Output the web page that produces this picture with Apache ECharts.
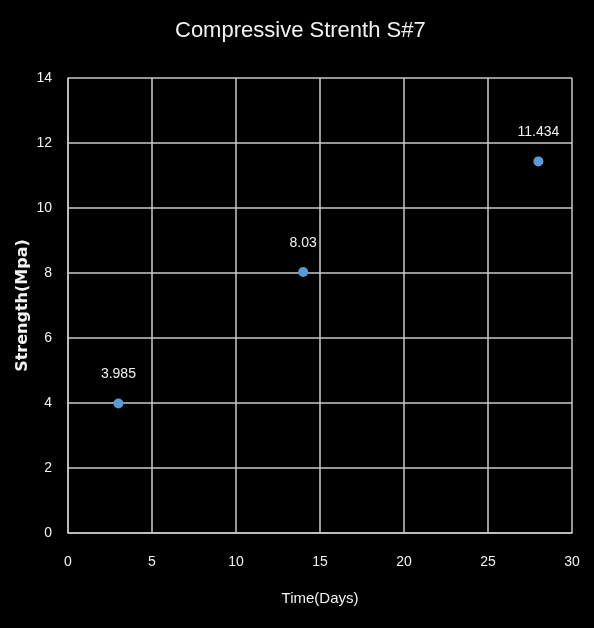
<!DOCTYPE html>
<html>
<head>
<meta charset="utf-8">
<script src="https://cdn.jsdelivr.net/npm/echarts@6/dist/echarts.min.js"></script>
<style>
html,body{margin:0;padding:0;background:#000;}
#chart{width:594px;height:628px;}
</style>
</head>
<body>
<div id="chart"></div>
<script>
// Compressive strength test results
const days = [3, 14, 28];
const strength = [3.985, 8.03, 11.434];
const xTicks = [0, 5, 10, 15, 20, 25, 30];
const yTicks = [0, 2, 4, 6, 8, 10, 12, 14];

const font = '"Liberation Sans", sans-serif';
const chart = echarts.init(document.getElementById('chart'));
chart.setOption({
  backgroundColor: '#000',
  animation: false,
  title: {
    text: 'Compressive Strenth S#7',
    left: 170,
    top: 15,
    textStyle: { color: '#f2f2f2', fontFamily: font, fontSize: 22, fontWeight: 'normal' }
  },
  grid: { left: 68, right: 22, top: 78, bottom: 95, outerBoundsMode: 'none' },
  xAxis: {
    type: 'value',
    min: xTicks[0], max: xTicks[xTicks.length - 1], interval: 5,
    name: 'Time(Days)', nameLocation: 'middle', nameGap: 58,
    nameTextStyle: { color: '#f2f2f2', fontFamily: font, fontSize: 15 },
    axisLine: { show: true, lineStyle: { color: '#c8c8c8', width: 1.5 } },
    axisTick: { show: false },
    axisLabel: { color: '#f2f2f2', fontFamily: font, fontSize: 14, margin: 22 },
    splitLine: { show: true, lineStyle: { color: '#c8c8c8', width: 1.5 } }
  },
  yAxis: {
    type: 'value',
    min: yTicks[0], max: yTicks[yTicks.length - 1], interval: 2,
    name: 'Strength(Mpa)', nameLocation: 'middle', nameGap: 37,
    nameMoveOverlap: false,
    nameTextStyle: { color: '#f2f2f2', fontFamily: '"DejaVu Sans", sans-serif', fontSize: 16, fontWeight: 'bold' },
    axisLine: { show: true, lineStyle: { color: '#c8c8c8', width: 1.5 } },
    axisTick: { show: false },
    axisLabel: { color: '#f2f2f2', fontFamily: font, fontSize: 14, margin: 16 },
    splitLine: { show: true, lineStyle: { color: '#c8c8c8', width: 1.5 } }
  },
  series: [{
    type: 'scatter',
    data: days.map((d, i) => [d, strength[i]]),
    symbolSize: 10,
    itemStyle: { color: '#5b9bd5', opacity: 1 },
    label: {
      show: true, position: 'top', distance: 17,
      formatter: p => String(p.value[1]),
      color: '#f2f2f2', fontFamily: font, fontSize: 14
    }
  }]
});
</script>
</body>
</html>
